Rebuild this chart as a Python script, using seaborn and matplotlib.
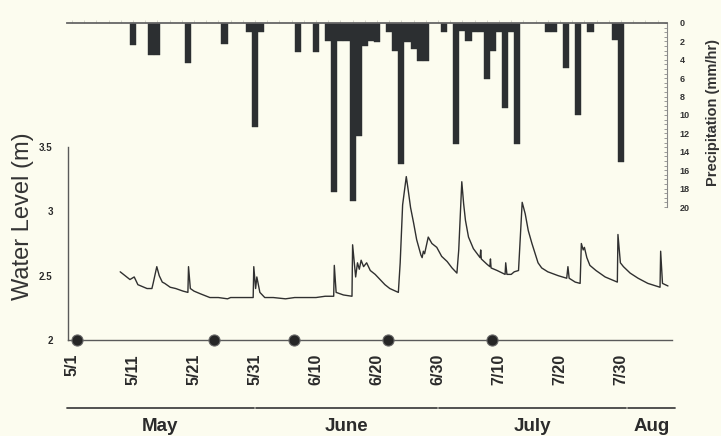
import matplotlib
matplotlib.use("Agg")
import matplotlib.pyplot as plt
import matplotlib.transforms as mtransforms
from matplotlib.ticker import MultipleLocator
import seaborn as sns

# ---------------------------------------------------------------------------
# Data (day 0 = May 1)
# ---------------------------------------------------------------------------
# Daily peak precipitation intensity (mm/hr)
precip_day = [10, 13, 14, 19, 25, 29, 30, 31, 37, 40, 42, 43, 44, 45, 46, 47, 48, 49, 50,
              52, 53, 54, 55, 56, 57, 58, 61, 63, 64, 65, 66, 67, 68, 69, 70, 71, 72, 73,
              78, 79, 81, 83, 85, 89, 90]
precip_rate = [2.4, 3.5, 3.5, 4.3, 2.3, 1.0, 11.3, 1.0, 3.2, 3.2, 2.0, 18.4, 2.0, 2.0, 19.3,
               12.3, 2.5, 2.0, 2.1, 1.0, 3.0, 15.3, 2.1, 2.8, 4.1, 4.1, 1.0, 13.2, 0.9, 2.0,
               1.0, 1.0, 6.1, 3.0, 1.0, 9.2, 1.0, 13.2, 1.0, 1.0, 4.9, 10.0, 1.0, 1.9, 15.1]

# Stream water level record (m)
wl_day = [7.9, 9.5, 10.2, 10.8, 12.3, 13.1, 13.3, 13.9, 14.3, 14.8,
          15.2, 16.1, 17.0, 18.2, 19.0, 19.1, 19.4, 20.0, 21.0, 22.6,
          24.0, 25.5, 26.0, 28.0, 29.7, 29.8, 30.1, 30.3, 30.8, 31.6,
          33.0, 35.0, 36.5, 38.0, 40.0, 41.5, 42.9, 43.0, 43.3, 44.5,
          45.9, 46.0, 46.5, 46.8, 47.1, 47.4, 47.8, 48.3, 48.9, 49.7,
          50.5, 51.3, 52.1, 53.5, 53.8, 54.2, 54.8, 55.1, 55.5, 56.0,
          56.5, 57.2, 57.4, 57.6, 57.8, 58.4, 59.0, 59.8, 60.6, 61.5,
          62.3, 63.1, 63.4, 63.9, 64.2, 64.5, 65.0, 65.8, 66.9, 67.0,
          67.1, 68.0, 68.5, 68.6, 68.7, 69.7, 71.0, 71.1, 71.3, 72.0,
          72.5, 73.2, 73.8, 74.3, 74.8, 75.4, 76.0, 76.4, 77.0, 78.0,
          79.7, 81.1, 81.3, 81.5, 82.5, 83.3, 83.5, 83.8, 84.0, 84.4,
          84.9, 85.9, 87.4, 89.4, 89.5, 89.9, 90.4, 91.5, 92.8, 94.4,
          96.4, 96.5, 96.8, 97.7]
wl_level = [2.53, 2.47, 2.49, 2.43, 2.40, 2.40, 2.44, 2.57, 2.50, 2.45,
            2.44, 2.41, 2.40, 2.38, 2.37, 2.57, 2.40, 2.38, 2.36, 2.33,
            2.33, 2.32, 2.33, 2.33, 2.33, 2.57, 2.40, 2.49, 2.37, 2.33,
            2.33, 2.32, 2.33, 2.33, 2.33, 2.34, 2.34, 2.58, 2.37, 2.35,
            2.34, 2.74, 2.49, 2.60, 2.55, 2.62, 2.57, 2.60, 2.54, 2.51,
            2.47, 2.43, 2.40, 2.37, 2.60, 3.05, 3.27, 3.17, 3.03, 2.91,
            2.78, 2.66, 2.64, 2.69, 2.67, 2.80, 2.75, 2.72, 2.65, 2.61,
            2.56, 2.52, 2.70, 3.23, 3.06, 2.93, 2.80, 2.71, 2.64, 2.70,
            2.63, 2.59, 2.57, 2.63, 2.56, 2.54, 2.51, 2.60, 2.51, 2.51,
            2.53, 2.54, 3.07, 2.98, 2.85, 2.75, 2.66, 2.60, 2.56, 2.53,
            2.50, 2.48, 2.57, 2.48, 2.45, 2.44, 2.75, 2.70, 2.72, 2.64,
            2.58, 2.54, 2.49, 2.45, 2.82, 2.60, 2.57, 2.52, 2.48, 2.44,
            2.41, 2.69, 2.44, 2.42]

# Sampling events marked on the time axis
sample_day = [0.8, 23.3, 36.4, 51.8, 68.9]

# Date ticks
tick_day = [0, 10, 20, 30, 40, 50, 60, 70, 80, 90]
tick_label = ["5/1", "5/11", "5/21", "5/31", "6/10", "6/20", "6/30", "7/10", "7/20", "7/30"]

# Months (first day of each month, plus end of record)
month_name = ["May", "June", "July", "Aug"]
month_bound = [0, 31, 61, 92, 100]

level_ticks = [2, 2.5, 3, 3.5]
level_labels = ["2", "2.5", "3", "3.5"]
precip_ticks = list(range(0, 21, 2))

# ---------------------------------------------------------------------------
# Styling / layout
# ---------------------------------------------------------------------------
sns.set_theme(style="white")
plt.rcParams["font.family"] = ["Liberation Sans", "DejaVu Sans"]

BG = "#FCFCEF"
INK = "#2b2b2b"
BAR = "#2c2f31"
AXIS = "#5a5a5a"

W, H = 721, 436
DAY0_PX, PX_PER_DAY = 72.0, 6.1


def rect(left, top, right, bottom):
    return [left / W, 1 - bottom / H, (right - left) / W, (bottom - top) / H]


def day_limits(left, right):
    return ((left - DAY0_PX) / PX_PER_DAY, (right - DAY0_PX) / PX_PER_DAY)


fig = plt.figure(figsize=(W / 100, H / 100), dpi=100, facecolor=BG)

ax_w = fig.add_axes(rect(68, 147, 672, 340))
ax_p = fig.add_axes(rect(67, 23, 667, 207))
for ax in (ax_w, ax_p):
    ax.patch.set_visible(False)

# ---------------- precipitation (hanging bars) ----------------
sns.barplot(x=precip_day, y=precip_rate, native_scale=True, width=1.0,
            color=BAR, edgecolor=BAR, linewidth=0.3, errorbar=None,
            saturation=1, ax=ax_p)
ax_p.set_xlim(*day_limits(67, 667))
ax_p.set_ylim(20, 0)
ax_p.set_xlabel("")
ax_p.set_ylabel("")
for side in ("left", "bottom"):
    ax_p.spines[side].set_visible(False)
ax_p.spines["top"].set_color("#666666")
ax_p.spines["top"].set_linewidth(1.3)
ax_p.spines["right"].set_color("#8a8a8a")
ax_p.spines["right"].set_linewidth(0.8)
ax_p.yaxis.tick_right()
ax_p.set_yticks(precip_ticks, [str(v) for v in precip_ticks], fontweight="bold")
ax_p.yaxis.set_minor_locator(MultipleLocator(0.5))
ax_p.tick_params(axis="y", which="both", direction="in", length=2.5, width=0.6,
                 color="#8a8a8a", pad=9, labelsize=6.5, labelcolor="#333333",
                 left=False, right=True)
ax_p.xaxis.tick_top()
ax_p.xaxis.set_major_locator(MultipleLocator(10))
ax_p.xaxis.set_minor_locator(MultipleLocator(2))
ax_p.tick_params(axis="x", which="both", direction="out", length=2, width=0.5,
                 color="#c8c8bc", labeltop=False, labelbottom=False, bottom=False)

# ---------------- water level ----------------
sns.lineplot(x=wl_day, y=wl_level, sort=False, estimator=None,
             color="#303030", linewidth=1.0, ax=ax_w)
ax_w.set_xlim(*day_limits(68, 672))
ax_w.set_ylim(level_ticks[0], level_ticks[-1])
ax_w.set_xlabel("")
ax_w.set_ylabel("")

y_floor = ax_w.get_ylim()[0]
sns.scatterplot(x=sample_day, y=[y_floor] * len(sample_day), s=64,
                color="#262626", edgecolor="#6a6a6a", linewidth=0.8,
                clip_on=False, zorder=6, ax=ax_w)

for side in ("top", "right"):
    ax_w.spines[side].set_visible(False)
for side in ("left", "bottom"):
    ax_w.spines[side].set_color(AXIS)
    ax_w.spines[side].set_linewidth(1.0)

ax_w.set_xticks(tick_day, tick_label, rotation=90, fontweight="bold")
ax_w.xaxis.set_minor_locator(MultipleLocator(2))
ax_w.tick_params(axis="x", which="both", direction="in", length=3, width=0.6,
                 color="#8a8a8a", pad=10, labelsize=11.5, labelcolor=INK)
ax_w.set_yticks(level_ticks, level_labels, fontweight="bold")
ax_w.yaxis.set_minor_locator(MultipleLocator(0.1))
ax_w.tick_params(axis="y", which="both", direction="in", length=3, width=0.6,
                 color="#8a8a8a", pad=11, labelsize=7, labelcolor=INK)

# ---------------- month bands under the dates ----------------
band = mtransforms.blended_transform_factory(ax_w.transData, ax_w.transAxes)
for name, start, stop in zip(month_name, month_bound[:-1], month_bound[1:]):
    x0, x1 = start - 0.9, stop - 1.2
    ax_w.plot([x0, x1], [-0.352, -0.352], transform=band, color="#444444",
              linewidth=1.3, clip_on=False)
    ax_w.text((x0 + x1) / 2, -0.448, name, transform=band, ha="center", va="center",
              fontsize=13.5, fontweight="bold", color=INK)

# ---------------- axis titles ----------------
fig.text(23 / W, 1 - 216 / H, "Water Level (m)", rotation=90, ha="center", va="center",
         fontsize=17, color="#333333")
fig.text(713 / W, 1 - 112 / H, "Precipitation (mm/hr)", rotation=90, ha="center",
         va="center", fontsize=10.5, fontweight="bold", color="#333333")

fig.savefig("out.png", dpi=100, facecolor=BG)
